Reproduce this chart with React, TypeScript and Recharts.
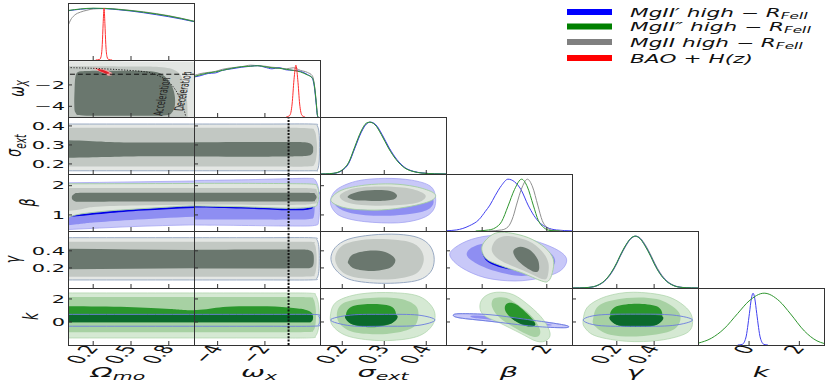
import React from "react";
import { ComposedChart, XAxis, YAxis, Line, Scatter } from "recharts";

type Pt = [number, number];

// panel grid (pixels)
const COL_X = [68, 194, 320, 446, 572, 698];
const ROW_Y = [3, 60, 117, 174, 231, 288];
const PW = 126;
const PH = 57;
const SX = 2.05; // the figure is stretched horizontally, so is its text

// axis ranges, per column (x) and per row (y)
const XDOM: [number, number][] = [[0, 1], [-5, 0.33], [0.147, 0.447], [0.44, 2.39], [-0.04, 0.635], [-2.03, 2.98]];
const YDOM: [number, number][] = [[0, 1.1], [-5, 0.33], [0.147, 0.447], [0.45, 2.4], [-0.035, 0.632], [-2, 2.95]];
const DIAG_DOM: [number, number] = [0, 1.1];

// tick values
const omTicks = [0.2, 0.5, 0.8];
const wxTicks = [-4, -2];
const sigTicks = [0.2, 0.3, 0.4];
const betaTicks = [1, 2];
const gamTicks = [0.2, 0.4];
const kTicks = [0, 2];
const TICKS = [omTicks, wxTicks, sigTicks, betaTicks, gamTicks, kTicks];

// ---- 1D marginals (normalised) ----
const omBlue: Pt[] = [[0, 0.95], [0.1, 0.98], [0.2, 0.995], [0.3, 0.99], [0.4, 0.97], [0.5, 0.945], [0.6, 0.912], [0.7, 0.875], [0.8, 0.835], [0.9, 0.79], [1, 0.74]];
const omGreen: Pt[] = [[0, 0.955], [0.1, 0.985], [0.2, 1], [0.3, 0.995], [0.4, 0.975], [0.5, 0.952], [0.6, 0.922], [0.7, 0.888], [0.8, 0.848], [0.9, 0.8], [1, 0.745]];
const omGray: Pt[] = [[0, 0.66], [0.02, 0.77], [0.05, 0.86], [0.1, 0.925], [0.15, 0.96], [0.2, 0.985], [0.3, 0.995], [0.4, 0.98], [0.5, 0.957], [0.6, 0.93], [0.7, 0.895], [0.8, 0.855], [0.9, 0.805], [1, 0.75]];
const omRed: Pt[] = [[0.22, 0], [0.25, 0.01], [0.262, 0.06], [0.272, 0.3], [0.279, 0.7], [0.286, 1], [0.293, 0.7], [0.3, 0.3], [0.31, 0.06], [0.322, 0.01], [0.35, 0]];

const wxBlue: Pt[] = [[-5, 0.77], [-4.7, 0.8], [-4.4, 0.84], [-4.1, 0.85], [-3.8, 0.9], [-3.4, 0.93], [-3, 0.96], [-2.6, 0.98], [-2.3, 0.99], [-2, 0.96], [-1.7, 0.93], [-1.4, 0.95], [-1.1, 0.91], [-0.8, 0.9], [-0.5, 0.88], [-0.2, 0.82], [0, 0.75], [0.1, 0.55], [0.17, 0.25], [0.22, 0.03], [0.25, 0]];
const wxGreen: Pt[] = [[-5, 0.78], [-4.7, 0.82], [-4.4, 0.85], [-4.1, 0.87], [-3.8, 0.9], [-3.4, 0.94], [-3, 0.97], [-2.6, 0.98], [-2.3, 0.99], [-2, 0.97], [-1.7, 0.95], [-1.4, 0.94], [-1.1, 0.92], [-0.8, 0.9], [-0.5, 0.87], [-0.2, 0.81], [0, 0.76], [0.1, 0.58], [0.17, 0.28], [0.22, 0.04], [0.25, 0]];
const wxGray: Pt[] = [[-5, 0.8], [-4.7, 0.84], [-4.4, 0.86], [-4.1, 0.88], [-3.8, 0.92], [-3.4, 0.95], [-3, 0.97], [-2.6, 1], [-2.3, 0.99], [-2, 0.98], [-1.7, 0.96], [-1.4, 0.95], [-1.1, 0.93], [-0.8, 0.95], [-0.5, 0.9], [-0.2, 0.86], [0, 0.8], [0.1, 0.6], [0.17, 0.3], [0.22, 0.04], [0.25, 0]];
const wxRed: Pt[] = [[-1.1, 0], [-0.95, 0.03], [-0.85, 0.25], [-0.77, 0.72], [-0.69, 1], [-0.61, 0.72], [-0.53, 0.25], [-0.43, 0.03], [-0.3, 0]];

const sigBlue: Pt[] = [[0.147, 0], [0.16, 0.002], [0.18, 0.012], [0.2, 0.07], [0.215, 0.2], [0.23, 0.5], [0.245, 0.8], [0.258, 0.97], [0.267, 1], [0.28, 0.95], [0.295, 0.76], [0.312, 0.5], [0.33, 0.28], [0.35, 0.12], [0.37, 0.05], [0.39, 0.02], [0.42, 0.005], [0.447, 0]];
const sigGreen: Pt[] = [[0.147, 0], [0.16, 0.003], [0.18, 0.015], [0.2, 0.08], [0.215, 0.22], [0.23, 0.53], [0.245, 0.83], [0.257, 0.98], [0.265, 1], [0.278, 0.95], [0.293, 0.76], [0.31, 0.5], [0.328, 0.28], [0.348, 0.12], [0.368, 0.05], [0.39, 0.018], [0.42, 0.004], [0.447, 0]];
const sigGray: Pt[] = [[0.147, 0], [0.16, 0.002], [0.18, 0.013], [0.2, 0.075], [0.215, 0.21], [0.23, 0.51], [0.245, 0.81], [0.258, 0.97], [0.266, 1], [0.279, 0.95], [0.294, 0.76], [0.311, 0.5], [0.329, 0.28], [0.349, 0.12], [0.369, 0.05], [0.39, 0.02], [0.42, 0.005], [0.447, 0]];

const betaBlue: Pt[] = [[0.44, 0.005], [0.6, 0.02], [0.8, 0.1], [0.95, 0.22], [1.05, 0.38], [1.12, 0.5], [1.2, 0.68], [1.3, 0.88], [1.4, 1], [1.5, 0.95], [1.6, 0.8], [1.71, 0.5], [1.8, 0.3], [1.9, 0.15], [2, 0.07], [2.15, 0.02], [2.39, 0.003]];
const betaGreen: Pt[] = [[0.9, 0], [1.1, 0.02], [1.2, 0.06], [1.3, 0.18], [1.4, 0.48], [1.5, 0.8], [1.61, 1], [1.7, 0.85], [1.79, 0.5], [1.87, 0.2], [1.95, 0.07], [2.05, 0.01], [2.2, 0]];
const betaGray: Pt[] = [[1.1, 0], [1.3, 0.02], [1.4, 0.08], [1.48, 0.28], [1.53, 0.5], [1.62, 0.85], [1.7, 1], [1.78, 0.85], [1.86, 0.5], [1.93, 0.2], [2, 0.07], [2.1, 0.01], [2.25, 0]];

const gamBlue: Pt[] = [[-0.04, 0], [0, 0.002], [0.05, 0.011], [0.1, 0.055], [0.134, 0.135], [0.17, 0.29], [0.2, 0.48], [0.217, 0.61], [0.25, 0.83], [0.275, 0.955], [0.3, 1], [0.325, 0.955], [0.35, 0.83], [0.383, 0.61], [0.4, 0.48], [0.43, 0.29], [0.466, 0.135], [0.5, 0.055], [0.55, 0.011], [0.6, 0.002], [0.635, 0]];
const gamGreen: Pt[] = [[-0.04, 0], [0, 0.002], [0.05, 0.012], [0.1, 0.058], [0.134, 0.14], [0.17, 0.3], [0.2, 0.49], [0.217, 0.62], [0.25, 0.84], [0.275, 0.96], [0.299, 1], [0.325, 0.95], [0.35, 0.82], [0.383, 0.6], [0.4, 0.47], [0.43, 0.28], [0.466, 0.13], [0.5, 0.052], [0.55, 0.01], [0.6, 0.002], [0.635, 0]];
const gamGray: Pt[] = [[-0.04, 0], [0, 0.002], [0.05, 0.01], [0.1, 0.052], [0.134, 0.13], [0.17, 0.28], [0.2, 0.47], [0.217, 0.6], [0.25, 0.82], [0.275, 0.95], [0.302, 1], [0.328, 0.955], [0.353, 0.83], [0.386, 0.61], [0.403, 0.48], [0.433, 0.29], [0.469, 0.135], [0.503, 0.055], [0.553, 0.011], [0.6, 0.002], [0.635, 0]];

const kBlue: Pt[] = [[-0.45, 0], [-0.275, 0.011], [-0.13, 0.135], [0.015, 0.61], [0.09, 0.89], [0.16, 1], [0.23, 0.89], [0.305, 0.61], [0.45, 0.135], [0.595, 0.011], [0.75, 0]];
const kGreen: Pt[] = [[-2.03, 0.035], [-1.5, 0.13], [-1, 0.31], [-0.45, 0.61], [0, 0.85], [0.6, 1], [1.2, 0.85], [1.65, 0.6], [2.2, 0.27], [2.7, 0.08], [2.98, 0.03]];

// ---- 2D contours (points in data units) ----
// omega_x vs Omega_mo
const wxOmGrayOuter: Pt[] = [[-1, 0.22], [-0.5, 0.22], [0.45, 0.2], [0.9, 0.18], [1.5, 0.1], [2, 0.1], [2, -7], [1.5, -7], [-0.5, -7], [-1, -7]];
const wxOmGrayMid: Pt[] = [[-1, -0.25], [-0.5, -0.25], [0.4, -0.27], [0.72, -0.32], [0.86, -0.7], [0.92, -1.8], [0.945, -3.5], [0.95, -6], [0.95, -7], [-0.5, -7], [-1, -7]];
const wxOmGrayInner: Pt[] = [[0.052, -2.5], [0.058, -1.3], [0.08, -0.8], [0.15, -0.69], [0.4, -0.67], [0.62, -0.69], [0.73, -0.9], [0.8, -1.6], [0.84, -2.6], [0.85, -3.7], [0.83, -4.5], [0.76, -4.85], [0.45, -4.88], [0.12, -4.86], [0.06, -4.6], [0.05, -3.8]];
const wxOmRedOuter: Pt[] = [[0.205, -0.4], [0.245, -0.45], [0.3, -0.6], [0.345, -0.85], [0.35, -1.08], [0.315, -1.12], [0.27, -0.85], [0.225, -0.6]];
const wxOmRedInner: Pt[] = [[0.235, -0.52], [0.27, -0.58], [0.31, -0.75], [0.33, -0.92], [0.305, -0.96], [0.27, -0.8], [0.24, -0.62]];
const wxOmDash: Pt[] = [[-1, -1], [2, -1]];
const wxOmAccel: Pt[] = [[0, -0.38], [0.2, -0.45], [0.4, -0.57], [0.55, -0.7], [0.65, -0.85], [0.72, -1.15], [0.78, -1.55], [0.83, -2.1], [0.87, -2.8], [0.9, -3.6], [0.925, -4.5], [0.94, -5.3]];

// sigma_ext rows
const sOmGrayOuter: Pt[] = [[-1, 0.41], [-0.5, 0.41], [0.5, 0.41], [1.5, 0.41], [2, 0.41], [2, 0.164], [1.5, 0.164], [0.5, 0.164], [-0.5, 0.164], [-1, 0.164]];
const sOmGrayMid: Pt[] = [[-1, 0.39], [-0.5, 0.39], [0.5, 0.39], [1.5, 0.39], [2, 0.39], [2, 0.186], [1.5, 0.186], [0.5, 0.186], [-0.5, 0.186], [-1, 0.186]];
const sOmGrayInner: Pt[] = [[-1, 0.326], [-0.5, 0.326], [0, 0.324], [0.3, 0.316], [0.6, 0.313], [1, 0.313], [1.5, 0.313], [2, 0.313], [2, 0.24], [1.5, 0.24], [1, 0.24], [0.6, 0.24], [0.3, 0.236], [0, 0.232], [-0.5, 0.232], [-1, 0.232]];
const sWxGrayOuter: Pt[] = [[-7, 0.41], [-6, 0.41], [-2, 0.41], [0, 0.41], [0.22, 0.4], [0.3, 0.35], [0.305, 0.287], [0.3, 0.22], [0.22, 0.168], [0, 0.164], [-2, 0.164], [-6, 0.164], [-7, 0.164]];
const sWxGrayMid: Pt[] = [[-7, 0.39], [-6, 0.39], [-2, 0.39], [-0.2, 0.388], [0.1, 0.375], [0.19, 0.32], [0.2, 0.288], [0.19, 0.25], [0.1, 0.2], [-0.2, 0.187], [-2, 0.186], [-6, 0.186], [-7, 0.186]];
const sWxGrayInner: Pt[] = [[-7, 0.313], [-6, 0.313], [-2, 0.315], [-0.6, 0.315], [-0.15, 0.31], [0.02, 0.295], [0.04, 0.277], [0.02, 0.258], [-0.15, 0.244], [-0.6, 0.24], [-2, 0.238], [-6, 0.24], [-7, 0.24]];

// beta rows
const bOmBlueOuter: Pt[] = [[-1, 2.1], [-0.5, 2.1], [0, 2.1], [0.5, 2.13], [1, 2.16], [1.5, 2.17], [2, 2.17], [2, 0.68], [1.5, 0.68], [1, 0.66], [0.5, 0.6], [0, 0.5], [-0.5, 0.42], [-1, 0.42]];
const bOmBlueInner: Pt[] = [[-1, 1.8], [2, 1.8], [2, 0.97], [1.5, 0.97], [1, 0.94], [0.5, 0.83], [0.2, 0.74], [0, 0.65], [-0.5, 0.5], [-1, 0.5]];
const bOmBlueDark: Pt[] = [[0.05, 1.0], [0.3, 1.11], [0.6, 1.21], [1, 1.3], [1.5, 1.33], [1.5, 1.27], [1, 1.24], [0.6, 1.15], [0.3, 1.05], [0.05, 0.95]];
const bOmEdge: Pt[] = [[-1, 2.06], [-0.5, 2.06], [0.5, 2.07], [1.5, 2.08], [2, 2.08], [2, 1.33], [1.5, 1.33], [1, 1.31], [0.8, 1.27], [0.5, 1.19], [0.3, 1.13], [0.1, 1.03], [0, 0.92], [-0.1, 0.8], [-1, 0.8]];
const bOmGrayMid: Pt[] = [[-1, 1.92], [-0.5, 1.92], [0.5, 1.92], [1.5, 1.92], [2, 1.92], [2, 1.36], [1.5, 1.36], [1, 1.35], [0.5, 1.32], [0.2, 1.27], [0.03, 1.15], [-0.5, 1.0], [-1, 1.0]];
const bOmGrayInner: Pt[] = [[0.03, 1.6], [0.05, 1.72], [0.12, 1.755], [0.5, 1.76], [1, 1.76], [1.5, 1.76], [2, 1.76], [2, 1.46], [1.5, 1.46], [1, 1.46], [0.5, 1.455], [0.12, 1.45], [0.05, 1.48]];
const bWxBlueOuter: Pt[] = [[-7, 2.17], [-6, 2.17], [-3, 2.2], [-1, 2.24], [-0.1, 2.25], [0.12, 2.2], [0.27, 1.9], [0.31, 1.4], [0.27, 0.8], [0.1, 0.64], [-1, 0.62], [-3, 0.64], [-6, 0.66], [-7, 0.66]];
const bWxBlueInner: Pt[] = [[-7, 1.8], [0, 1.8], [0.1, 1.6], [0.08, 1.0], [-0.1, 0.86], [-1, 0.84], [-3, 0.84], [-6, 0.84], [-7, 0.84]];
const bWxBlueDark: Pt[] = [[-7, 1.33], [-6, 1.32], [-3, 1.27], [-1, 1.21], [-0.3, 1.22], [0, 1.27], [0, 1.22], [-0.3, 1.17], [-1, 1.16], [-3, 1.22], [-6, 1.27], [-7, 1.28]];
const bWxEdge: Pt[] = [[-7, 2.08], [-6, 2.08], [-3, 2.08], [-1, 2.07], [0.05, 2.05], [0.22, 1.95], [0.28, 1.7], [0.22, 1.4], [0.05, 1.28], [-1, 1.23], [-3, 1.28], [-6, 1.32], [-7, 1.32]];
const bWxGrayMid: Pt[] = [[-7, 1.92], [-6, 1.92], [-1, 1.92], [0.05, 1.9], [0.2, 1.82], [0.25, 1.65], [0.2, 1.45], [0.05, 1.38], [-1, 1.34], [-6, 1.36], [-7, 1.36]];
const bWxGrayInner: Pt[] = [[-7, 1.76], [-6, 1.76], [-1, 1.76], [0, 1.75], [0.12, 1.71], [0.19, 1.61], [0.12, 1.5], [0, 1.46], [-1, 1.46], [-6, 1.46], [-7, 1.46]];
const bSBlueOuter: Pt[] = [[0.173, 1.57], [0.191, 1.91], [0.238, 2.17], [0.302, 2.25], [0.365, 2.19], [0.409, 1.99], [0.422, 1.62], [0.417, 1.17], [0.389, 0.88], [0.333, 0.73], [0.254, 0.77], [0.199, 0.94], [0.176, 1.23]];
const bSBlueInner: Pt[] = [[0.183, 1.51], [0.199, 1.74], [0.294, 1.91], [0.397, 1.79], [0.417, 1.51], [0.409, 1.23], [0.373, 1.06], [0.294, 0.97], [0.222, 1.06], [0.187, 1.28]];
const bSEdge: Pt[] = [[0.173, 1.53], [0.199, 1.85], [0.254, 2.02], [0.318, 2.06], [0.373, 1.97], [0.413, 1.79], [0.422, 1.62], [0.405, 1.45], [0.357, 1.28], [0.294, 1.17], [0.23, 1.19], [0.191, 1.31]];
const bSGrayMid: Pt[] = [[0.195, 1.68], [0.23, 1.91], [0.294, 1.97], [0.357, 1.91], [0.393, 1.74], [0.397, 1.57], [0.373, 1.4], [0.31, 1.32], [0.246, 1.34], [0.207, 1.45]];
const bSGrayInner: Pt[] = [[0.214, 1.65], [0.238, 1.79], [0.278, 1.85], [0.314, 1.82], [0.33, 1.68], [0.322, 1.53], [0.286, 1.48], [0.238, 1.49], [0.218, 1.56]];

// gamma rows
const gOmGrayOuter: Pt[] = [[-1, 0.554], [-0.5, 0.554], [0.5, 0.554], [1.5, 0.554], [2, 0.554], [2, 0.059], [1.5, 0.059], [0.5, 0.059], [-0.5, 0.059], [-1, 0.059]];
const gOmGrayMid: Pt[] = [[-1, 0.507], [-0.5, 0.507], [0.5, 0.507], [1.5, 0.507], [2, 0.507], [2, 0.097], [1.5, 0.097], [0.5, 0.097], [-0.5, 0.097], [-1, 0.097]];
const gOmGrayInner: Pt[] = [[-1, 0.425], [-0.5, 0.425], [0, 0.423], [0.5, 0.415], [1, 0.41], [1.5, 0.41], [2, 0.41], [2, 0.195], [1.5, 0.195], [1, 0.195], [0.5, 0.19], [0, 0.185], [-0.5, 0.185], [-1, 0.185]];
const gWxGrayOuter: Pt[] = [[-7, 0.554], [-6, 0.554], [-2, 0.554], [0, 0.553], [0.2, 0.53], [0.28, 0.45], [0.3, 0.31], [0.28, 0.16], [0.2, 0.08], [0, 0.06], [-2, 0.059], [-6, 0.059], [-7, 0.059]];
const gWxGrayMid: Pt[] = [[-7, 0.507], [-6, 0.507], [-2, 0.507], [-0.1, 0.505], [0.1, 0.48], [0.17, 0.4], [0.19, 0.3], [0.17, 0.2], [0.1, 0.12], [-0.1, 0.1], [-2, 0.097], [-6, 0.097], [-7, 0.097]];
const gWxGrayInner: Pt[] = [[-7, 0.41], [-6, 0.41], [-2, 0.415], [-0.5, 0.415], [-0.1, 0.405], [0.04, 0.37], [0.07, 0.3], [0.04, 0.23], [-0.1, 0.2], [-0.5, 0.195], [-2, 0.193], [-6, 0.195], [-7, 0.195]];
const gSGrayOuter: Pt[] = [[0.173, 0.301], [0.183, 0.437], [0.214, 0.535], [0.27, 0.585], [0.333, 0.593], [0.381, 0.554], [0.409, 0.457], [0.419, 0.301], [0.409, 0.144], [0.373, 0.047], [0.294, 0.02], [0.222, 0.059], [0.187, 0.164]];
const gSGrayMid: Pt[] = [[0.183, 0.301], [0.199, 0.457], [0.246, 0.527], [0.31, 0.535], [0.365, 0.495], [0.389, 0.398], [0.393, 0.261], [0.373, 0.125], [0.318, 0.067], [0.246, 0.079], [0.202, 0.144]];
const gSGrayInner: Pt[] = [[0.214, 0.281], [0.226, 0.359], [0.262, 0.402], [0.302, 0.386], [0.326, 0.301], [0.314, 0.203], [0.27, 0.164], [0.23, 0.191], [0.216, 0.242]];
const gBBlueOuter: Pt[] = [[0.502, 0.34], [0.579, 0.437], [0.838, 0.535], [1.199, 0.582], [1.612, 0.554], [1.972, 0.476], [2.231, 0.378], [2.308, 0.281], [2.205, 0.164], [1.921, 0.086], [1.508, 0.047], [1.044, 0.086], [0.683, 0.203]];
const gBBlueInner: Pt[] = [[0.76, 0.359], [0.889, 0.457], [1.302, 0.515], [1.767, 0.476], [2.05, 0.378], [2.127, 0.261], [1.972, 0.164], [1.612, 0.106], [1.199, 0.164], [0.889, 0.261]];
const gBBlueDark: Pt[] = [[1.002, 0.378], [1.07, 0.281], [1.25, 0.215], [1.482, 0.176], [1.508, 0.191], [1.302, 0.254], [1.147, 0.32], [1.055, 0.386]];
const gBEdge: Pt[] = [[0.993, 0.418], [1.044, 0.515], [1.199, 0.605], [1.405, 0.612], [1.714, 0.554], [1.972, 0.437], [2.101, 0.301], [2.086, 0.144], [2.024, 0.047], [1.921, 0.047], [1.612, 0.144], [1.302, 0.222], [1.07, 0.301]];
const gBGrayMid: Pt[] = [[1.147, 0.418], [1.225, 0.535], [1.405, 0.574], [1.714, 0.515], [1.921, 0.398], [2.024, 0.261], [2.014, 0.106], [1.946, 0.067], [1.714, 0.144], [1.405, 0.242], [1.225, 0.32]];
const gBGrayInner: Pt[] = [[1.482, 0.398], [1.586, 0.448], [1.74, 0.41], [1.859, 0.301], [1.88, 0.184], [1.818, 0.152], [1.663, 0.215], [1.534, 0.301]];

// k rows
const kOmGreenOuter: Pt[] = [[-1, 2.52], [-0.5, 2.52], [0.5, 2.52], [1.5, 2.52], [2, 2.52], [2, -1.39], [1.5, -1.39], [0.5, -1.39], [-0.5, -1.39], [-1, -1.39]];
const kOmGreenMid: Pt[] = [[-1, 2.17], [-0.5, 2.17], [0.5, 2.17], [1.5, 2.17], [2, 2.17], [2, -0.9], [1.5, -0.9], [0.5, -0.9], [-0.5, -0.9], [-1, -0.9]];
const kOmGreenInner: Pt[] = [[-1, 1.36], [-0.5, 1.36], [0, 1.36], [0.47, 1.3], [0.81, 1.13], [1, 1.01], [1.5, 0.95], [2, 0.95], [2, -0.03], [1.5, -0.03], [0.5, -0.03], [-0.5, -0.03], [-1, -0.03]];
const kOmGreenDark: Pt[] = [[-1, 0.63], [-0.5, 0.63], [0.5, 0.63], [1.5, 0.63], [2, 0.63], [2, -0.03], [1.5, -0.03], [0.5, -0.03], [-0.5, -0.03], [-1, -0.03]];
const kOmBlueBand: Pt[] = [[-1, 0.66], [-0.5, 0.66], [0.5, 0.66], [1.5, 0.66], [2, 0.66], [2, -0.37], [1.5, -0.37], [0.5, -0.37], [-0.5, -0.37], [-1, -0.37]];
const kWxGreenOuter: Pt[] = [[-7, 2.52], [-6, 2.52], [-2, 2.52], [-0.1, 2.5], [0.15, 2.3], [0.27, 1.5], [0.3, 0.5], [0.27, -0.5], [0.15, -1.2], [-0.1, -1.38], [-2, -1.39], [-6, -1.39], [-7, -1.39]];
const kWxGreenMid: Pt[] = [[-7, 2.17], [-6, 2.17], [-2, 2.17], [-0.2, 2.15], [0.05, 2], [0.14, 1.3], [0.16, 0.6], [0.14, -0.2], [0.05, -0.75], [-0.2, -0.88], [-2, -0.9], [-6, -0.9], [-7, -0.9]];
const kWxGreenInner: Pt[] = [[-7, 1.05], [-6, 1.05], [-4.75, 1.07], [-3.6, 1.33], [-1.9, 1.36], [-0.8, 1.22], [-0.25, 1.05], [0, 0.75], [0.03, 0.3], [-0.05, 0.02], [-0.3, -0.03], [-2, -0.03], [-6, -0.03], [-7, -0.03]];
const kWxGreenDark: Pt[] = [[-7, 0.63], [-6, 0.63], [-2, 0.63], [-0.3, 0.63], [0, 0.55], [0.03, 0.3], [-0.05, 0.02], [-0.3, -0.03], [-2, -0.03], [-6, -0.03], [-7, -0.03]];
const kWxBlueBand: Pt[] = [[-7, 0.66], [-6, 0.66], [-2, 0.66], [0.1, 0.65], [0.28, 0.5], [0.33, 0.15], [0.28, -0.2], [0.1, -0.36], [-2, -0.37], [-6, -0.37], [-7, -0.37]];
const kSGreenOuter: Pt[] = [[0.172, 0.606], [0.187, 1.761], [0.242, 2.43], [0.322, 2.54], [0.385, 2.19], [0.418, 1.04], [0.415, -0.26], [0.377, -1.28], [0.298, -1.62], [0.218, -1.28], [0.179, -0.41]];
const kSGreenMid: Pt[] = [[0.187, 0.606], [0.202, 1.62], [0.258, 2.06], [0.33, 2.06], [0.373, 1.47], [0.381, 0.46], [0.365, -0.55], [0.306, -1.04], [0.234, -0.93], [0.199, -0.35]];
const kSGreenInner: Pt[] = [[0.209, 0.606], [0.222, 1.33], [0.266, 1.56], [0.314, 1.39], [0.328, 0.69], [0.318, -0.11], [0.27, -0.46], [0.222, -0.18]];
const kSGreenDark: Pt[] = [[0.209, 0.6], [0.27, 0.65], [0.329, 0.6], [0.318, -0.11], [0.27, -0.4], [0.222, -0.18]];
const kSBlueBand: Pt[] = [[0.172, 0.17], [0.22, 0.6], [0.3, 0.66], [0.38, 0.6], [0.421, 0.17], [0.38, -0.3], [0.3, -0.37], [0.22, -0.33]];
const kBBlueOuter: Pt[] = [[0.553, 0.58], [0.657, 0.72], [1.121, 0.63], [1.637, 0.26], [2.154, -0.15], [2.333, -0.37], [2.256, -0.5], [1.791, -0.37], [1.121, 0.06], [0.657, 0.35]];
const kBBlueInner: Pt[] = [[0.838, 0.55], [1.121, 0.49], [1.637, 0.15], [2.05, -0.2], [1.999, -0.32], [1.637, -0.18], [1.121, 0.2], [0.863, 0.37]];
const kBGreenOuter: Pt[] = [[0.966, 1.5], [1.044, 2.23], [1.225, 2.58], [1.482, 2.37], [1.74, 1.36], [1.946, 0.2], [2.05, -0.96], [1.999, -1.59], [1.844, -1.68], [1.585, -0.96], [1.276, -0.09], [1.017, 0.63]];
const kBGreenMid: Pt[] = [[1.147, 1.65], [1.199, 2.08], [1.38, 2.08], [1.585, 1.36], [1.791, 0.35], [1.895, -0.67], [1.869, -1.24], [1.74, -1.19], [1.508, -0.52], [1.276, 0.35], [1.172, 1.07]];
const kBGreenInner: Pt[] = [[1.353, 1.36], [1.405, 1.65], [1.534, 1.5], [1.714, 0.63], [1.818, -0.09], [1.791, -0.37], [1.663, -0.32], [1.482, 0.2], [1.369, 0.84]];
const kBGreenDark: Pt[] = [[1.457, 0.41], [1.663, 0.26], [1.802, -0.03], [1.807, -0.32], [1.678, -0.32], [1.508, 0.11]];
const kGGreenOuter: Pt[] = [[0.02, 0.2], [0.047, 1.36], [0.146, 2.23], [0.288, 2.58], [0.467, 2.23], [0.574, 1.21], [0.606, 0.06], [0.574, -0.96], [0.431, -1.59], [0.253, -1.68], [0.092, -1.24], [0.03, -0.52]];
const kGGreenMid: Pt[] = [[0.074, 0.35], [0.11, 1.5], [0.253, 2.08], [0.414, 1.99], [0.521, 1.07], [0.539, 0.06], [0.485, -0.81], [0.324, -1.24], [0.164, -1.1], [0.083, -0.37]];
const kGGreenInner: Pt[] = [[0.164, 0.63], [0.199, 1.36], [0.307, 1.59], [0.414, 1.36], [0.444, 0.63], [0.414, -0.24], [0.307, -0.44], [0.199, -0.24]];
const kGGreenDark: Pt[] = [[0.165, 0.5], [0.3, 0.62], [0.443, 0.5], [0.414, -0.24], [0.307, -0.42], [0.199, -0.24]];
const kGBlueBand: Pt[] = [[0.02, 0.17], [0.1, 0.6], [0.3, 0.68], [0.5, 0.6], [0.606, 0.17], [0.5, -0.3], [0.3, -0.38], [0.1, -0.3]];

// omega_x = -1 marker used in the omega_x column
const wxMinusOne: Pt[] = [[-1, -10], [-1, 10]];

const STYLES: Record<string, { fill: string; stroke?: string; sw?: number; dash?: string }> = {
  grayOuter: { fill: "#e3e6e3" },
  grayEdge: { fill: "#e4e7e4", stroke: "#8ea2bd", sw: 0.9 },
  grayMid: { fill: "#c2c8c3" },
  grayInner: { fill: "#6a776e" },
  greenEdge: { fill: "#e0e6df", stroke: "#a2cda0", sw: 0.9 },
  blueOuter: { fill: "#c8c8f8", stroke: "#9c9cf0", sw: 0.7 },
  blueInner: { fill: "#8e8ef2" },
  blueDark: { fill: "#0000e6" },
  blueLine: { fill: "none", stroke: "#6a7ae0", sw: 0.9 },
  greenOuter: { fill: "#d5e9d3", stroke: "#aad3a8", sw: 0.7 },
  greenMid: { fill: "#a7d1a3" },
  greenInner: { fill: "#2a962c" },
  greenDark: { fill: "#0b6a2c" },
  redOuter: { fill: "#f6a3a3" },
  redInner: { fill: "#e4212a" },
  dash: { fill: "none", stroke: "#111", sw: 1, dash: "5 3" },
  dot: { fill: "none", stroke: "#222", sw: 1, dash: "1.2 1.6" },
  vdot: { fill: "none", stroke: "#111", sw: 2, dash: "2 1.3" },
};

const LINE_COLORS: Record<string, string> = { blue: "#4040f0", green: "#2f962f", gray: "#8f8f8f", red: "#ff2f2f" };

type Layer = [string, Pt[], boolean?];
interface Note { text: string; at: Pt; angle: number }
interface PanelDef { r: number; c: number; layers: Layer[]; notes?: Note[] }

const PANELS: PanelDef[] = [
  { r: 1, c: 0, layers: [["grayOuter", wxOmGrayOuter], ["grayMid", wxOmGrayMid], ["grayInner", wxOmGrayInner], ["redOuter", wxOmRedOuter], ["redInner", wxOmRedInner], ["dash", wxOmDash, false], ["dot", wxOmAccel, false]],
    notes: [{ text: "Acceleration", at: [0.745, -3.1], angle: -84 }, { text: "Deceleration", at: [0.912, -2.57], angle: -84 }] },
  { r: 2, c: 0, layers: [["grayEdge", sOmGrayOuter], ["grayMid", sOmGrayMid], ["grayInner", sOmGrayInner]] },
  { r: 2, c: 1, layers: [["grayEdge", sWxGrayOuter], ["grayMid", sWxGrayMid], ["grayInner", sWxGrayInner], ["vdot", wxMinusOne, false]] },
  { r: 3, c: 0, layers: [["blueOuter", bOmBlueOuter], ["blueInner", bOmBlueInner], ["blueDark", bOmBlueDark], ["greenEdge", bOmEdge], ["grayMid", bOmGrayMid], ["grayInner", bOmGrayInner]] },
  { r: 3, c: 1, layers: [["blueOuter", bWxBlueOuter], ["blueInner", bWxBlueInner], ["blueDark", bWxBlueDark], ["greenEdge", bWxEdge], ["grayMid", bWxGrayMid], ["grayInner", bWxGrayInner], ["vdot", wxMinusOne, false]] },
  { r: 3, c: 2, layers: [["blueOuter", bSBlueOuter], ["blueInner", bSBlueInner], ["greenEdge", bSEdge], ["grayMid", bSGrayMid], ["grayInner", bSGrayInner]] },
  { r: 4, c: 0, layers: [["grayEdge", gOmGrayOuter], ["grayMid", gOmGrayMid], ["grayInner", gOmGrayInner]] },
  { r: 4, c: 1, layers: [["grayEdge", gWxGrayOuter], ["grayMid", gWxGrayMid], ["grayInner", gWxGrayInner], ["vdot", wxMinusOne, false]] },
  { r: 4, c: 2, layers: [["grayEdge", gSGrayOuter], ["grayMid", gSGrayMid], ["grayInner", gSGrayInner]] },
  { r: 4, c: 3, layers: [["blueOuter", gBBlueOuter], ["blueInner", gBBlueInner], ["blueDark", gBBlueDark], ["greenEdge", gBEdge], ["grayMid", gBGrayMid], ["grayInner", gBGrayInner]] },
  { r: 5, c: 0, layers: [["greenOuter", kOmGreenOuter], ["greenMid", kOmGreenMid], ["greenInner", kOmGreenInner], ["greenDark", kOmGreenDark], ["blueLine", kOmBlueBand]] },
  { r: 5, c: 1, layers: [["greenOuter", kWxGreenOuter], ["greenMid", kWxGreenMid], ["greenInner", kWxGreenInner], ["greenDark", kWxGreenDark], ["blueLine", kWxBlueBand], ["vdot", wxMinusOne, false]] },
  { r: 5, c: 2, layers: [["greenOuter", kSGreenOuter], ["greenMid", kSGreenMid], ["greenInner", kSGreenInner], ["greenDark", kSGreenDark], ["blueLine", kSBlueBand]] },
  { r: 5, c: 3, layers: [["blueOuter", kBBlueOuter], ["blueInner", kBBlueInner], ["greenOuter", kBGreenOuter], ["greenMid", kBGreenMid], ["greenInner", kBGreenInner], ["greenDark", kBGreenDark], ["blueLine", kBBlueOuter]] },
  { r: 5, c: 4, layers: [["greenOuter", kGGreenOuter], ["greenMid", kGGreenMid], ["greenInner", kGGreenInner], ["greenDark", kGGreenDark], ["blueLine", kGBlueBand]] },
];

const DIAGS: [string, Pt[]][][] = [
  [["gray", omGray], ["blue", omBlue], ["green", omGreen], ["red", omRed]],
  [["gray", wxGray], ["blue", wxBlue], ["green", wxGreen], ["red", wxRed]],
  [["gray", sigGray], ["blue", sigBlue], ["green", sigGreen]],
  [["blue", betaBlue], ["gray", betaGray], ["green", betaGreen]],
  [["gray", gamGray], ["blue", gamBlue], ["green", gamGreen]],
  [["blue", kBlue], ["green", kGreen]],
];

// legend
const legendColors = ["#0000ff", "#008000", "#808080", "#ff0000"];
const legendMain = ["MgII\u2032 high \u2212 R", "MgII\u2033 high \u2212 R", "MgII high \u2212 R", "BAO + H(z)"];
const legendSub = ["FeII", "FeII", "FeII", ""];

const toXY = (pts: Pt[]) => pts.map(([x, y]) => ({ x, y }));

function smoothPath(p: { x: number; y: number }[], closed: boolean): string {
  const n = p.length;
  if (n < 2) return "";
  const at = (i: number) => (closed ? p[(i + n) % n] : p[Math.max(0, Math.min(n - 1, i))]);
  let d = `M${p[0].x},${p[0].y}`;
  const segs = closed ? n : n - 1;
  for (let i = 0; i < segs; i++) {
    const p0 = at(i - 1), p1 = at(i), p2 = at(i + 1), p3 = at(i + 2);
    const c1x = p1.x + (p2.x - p0.x) / 6, c1y = p1.y + (p2.y - p0.y) / 6;
    const c2x = p2.x - (p3.x - p1.x) / 6, c2y = p2.y - (p3.y - p1.y) / 6;
    d += `C${c1x},${c1y} ${c2x},${c2y} ${p2.x},${p2.y}`;
  }
  return closed ? d + "Z" : d;
}

const Nothing = () => <g />;

const fmt = (v: number) => (v < 0 ? "\u2212" + Math.abs(v) : String(v));

const xTick = (labels: boolean) => (props: any) => {
  const { x, y, payload } = props;
  return (
    <g>
      <line x1={x} x2={x} y1={y} y2={y - 4} stroke="#333" strokeWidth={1} />
      {labels && (
        <text transform={`translate(${x + 6},${y + 3}) scale(${SX},1) rotate(-62)`} textAnchor="end" fontSize={12} fill="#111">
          {fmt(payload.value)}
        </text>
      )}
    </g>
  );
};

const yTick = (labels: boolean) => (props: any) => {
  const { x, y, payload } = props;
  return (
    <g>
      <line x1={x} x2={x + 4} y1={y} y2={y} stroke="#333" strokeWidth={1} />
      {labels && (
        <text transform={`translate(${x - 3},${y + 3.7}) scale(${SX},1)`} textAnchor="end" fontSize={10.2} fill="#111">
          {fmt(payload.value)}
        </text>
      )}
    </g>
  );
};

function shapeSeries(key: string, styleKey: string, pts: Pt[], closed = true) {
  const st = STYLES[styleKey];
  return (
    <Scatter
      key={key}
      data={toXY(pts)}
      isAnimationActive={false}
      shape={Nothing}
      line={(lp: any) => (
        <path
          d={smoothPath(lp.points, closed)}
          fill={closed ? st.fill : "none"}
          stroke={st.stroke || "none"}
          strokeWidth={st.sw || 0}
          strokeDasharray={st.dash}
        />
      )}
    />
  );
}

const NoteShape = (note: Note) => (props: any) => (
  <text
    transform={`translate(${props.cx},${props.cy}) scale(${SX},1) rotate(${note.angle})`}
    textAnchor="middle"
    dominantBaseline="central"
    fontSize={6.2}
    fill="#222"
  >
    {note.text}
  </text>
);

function Frame({ r, c }: { r: number; c: number }) {
  return (
    <div
      style={{
        position: "absolute",
        left: COL_X[c],
        top: ROW_Y[r],
        width: PW + 1,
        height: PH + 1,
        boxSizing: "border-box",
        border: "1px solid #333",
        pointerEvents: "none",
      }}
    />
  );
}

// each panel is a chart whose plot area is exactly the panel; the 1px axis strips sit outside it
function PanelChart({ r, c, diag, children }: { r: number; c: number; diag: boolean; children: React.ReactNode }) {
  return (
    <div style={{ position: "absolute", left: COL_X[c] - 1, top: ROW_Y[r], width: PW + 1, height: PH + 1 }}>
      <ComposedChart width={PW + 1} height={PH + 1} margin={{ top: 0, right: 0, bottom: 0, left: 0 }}>
        <XAxis dataKey="x" type="number" domain={XDOM[c]} allowDataOverflow height={1} ticks={TICKS[c]} interval={0}
          axisLine={false} tickLine={false} tickSize={0} tickMargin={0} tick={xTick(r === 5)} />
        <YAxis dataKey="y" type="number" domain={diag ? DIAG_DOM : YDOM[r]} allowDataOverflow width={1}
          ticks={diag ? undefined : TICKS[r]} interval={0} axisLine={false} tickLine={false} tickSize={0} tickMargin={0}
          tick={diag ? false : yTick(c === 0)} />
        {children}
      </ComposedChart>
    </div>
  );
}

function OffDiag({ p }: { p: PanelDef }) {
  return (
    <PanelChart r={p.r} c={p.c} diag={false}>
      {p.layers.map(([st, pts, closed], i) => shapeSeries(`l${i}`, st, pts, closed !== false))}
      {(p.notes || []).map((n, i) => (
        <Scatter key={`n${i}`} data={toXY([n.at])} isAnimationActive={false} shape={NoteShape(n)} />
      ))}
    </PanelChart>
  );
}

function Diag({ i }: { i: number }) {
  return (
    <PanelChart r={i} c={i} diag>
      {DIAGS[i].map(([col, pts], j) => (
        <Line key={j} data={toXY(pts)} dataKey="y" type="monotone" dot={false} stroke={LINE_COLORS[col]}
          strokeWidth={1} isAnimationActive={false} />
      ))}
    </PanelChart>
  );
}

// axis titles: symbol, subscript, centre x (bottom) / baseline x (left)
const BOTTOM_LABELS: [string, string, number][] = [["\u03a9", "mo", 118], ["\u03c9", "x", 259], ["\u03c3", "ext", 383], ["\u03b2", "", 509], ["\u03b3", "", 635], ["k", "", 761]];
const LEFT_LABELS: [string, string, number][] = [["\u03c9", "X", 24], ["\u03c3", "ext", 21], ["\u03b2", "", 35], ["\u03b3", "", 20], ["k", "", 38]];
const LSX = 1.7;

export default function App() {
  return (
    <div style={{ position: "fixed", left: 0, top: 0, width: 831, height: 382, background: "#fff", fontFamily: "'DejaVu Sans', sans-serif", overflow: "hidden" }}>
      <style>{`.recharts-surface{overflow:visible}.recharts-wrapper{overflow:visible}`}</style>
      {PANELS.map((p) => <OffDiag key={`${p.r}-${p.c}`} p={p} />)}
      {DIAGS.map((_, i) => <Diag key={i} i={i} />)}
      {PANELS.map((p) => <Frame key={`f${p.r}-${p.c}`} r={p.r} c={p.c} />)}
      {DIAGS.map((_, i) => <Frame key={`fd${i}`} r={i} c={i} />)}
      <svg width={831} height={382} style={{ position: "absolute", left: 0, top: 0, pointerEvents: "none" }}>
        {BOTTOM_LABELS.map(([main, sub, x], i) => (
          <text key={i} transform={`translate(${x},377) scale(${SX},1)`} textAnchor="middle" fontSize={14} fontStyle="italic" fill="#111">
            {main}
            {sub && <tspan fontSize={10} dy={3}>{sub}</tspan>}
          </text>
        ))}
        {LEFT_LABELS.map(([main, sub, x], i) => (
          <text key={i} transform={`translate(${x},${ROW_Y[i + 1] + PH / 2}) scale(${LSX},1) rotate(-90)`} textAnchor="middle" fontSize={12.5} fontStyle="italic" fill="#111">
            {main}
            {sub && <tspan fontSize={9} dy={3}>{sub}</tspan>}
          </text>
        ))}
        {legendColors.map((col, i) => {
          const cy = [12, 26.5, 42, 58][i];
          return (
            <g key={i}>
              <rect x={567} y={cy - 3} width={45} height={6} fill={col} />
              <text transform={`translate(630,${cy + 4.5}) scale(1.8,1)`} fontSize={12} fontStyle="italic" fill="#111">
                {legendMain[i]}
                {legendSub[i] && <tspan fontSize={8.5} dy={2}>{legendSub[i]}</tspan>}
              </text>
            </g>
          );
        })}
      </svg>
    </div>
  );
}
